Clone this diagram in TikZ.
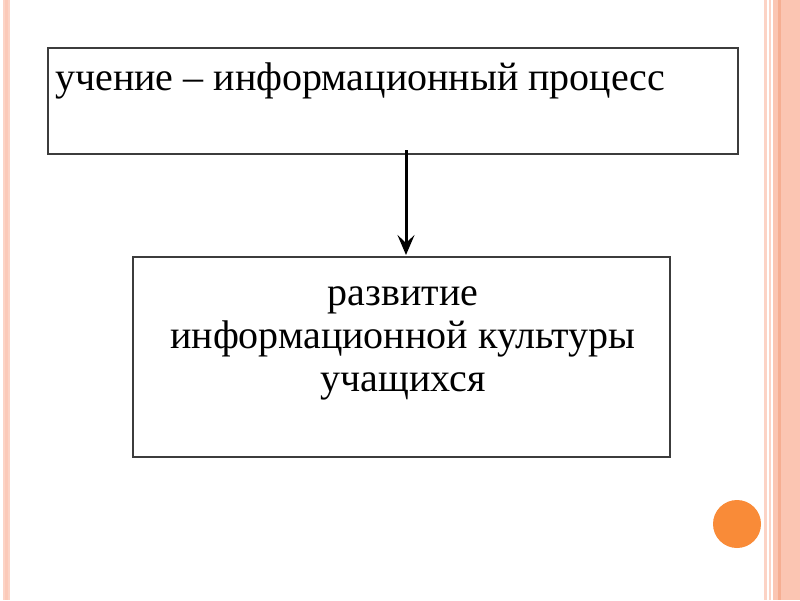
\documentclass[tikz,border=0pt]{standalone}
\usepackage{fontspec}
\setmainfont{Liberation Serif}
\usetikzlibrary{arrows.meta}
\definecolor{stripeA}{HTML}{FCD3C5}
\definecolor{stripeB}{HTML}{FBC5B2}
\definecolor{stripeC}{HTML}{F6AE92}
\definecolor{dot}{HTML}{F98B38}
\definecolor{boxline}{HTML}{3C3C3C}
\tikzset{
  px/.style={x=1pt,y=-1pt},
  txtbox/.style={draw=boxline, line width=1.8pt, inner sep=0pt},
  txt/.style={font=\fontsize{40}{43}\selectfont, text=black, inner sep=0pt},
  conn/.style={line width=3pt, -{Stealth[length=20pt,width=17pt,inset=8pt]}}
}
\begin{document}
\begin{tikzpicture}[px]
\useasboundingbox (0,0) rectangle (800,600);
\fill[white] (0,0) rectangle (800,600);
% left border stripe
\fill[stripeA] (3,0) rectangle (10,600);
\fill[stripeB!70!stripeA] (5,0) rectangle (8,600);
% right border stripes
\fill[stripeA] (764,0) rectangle (767,600);
\fill[stripeA] (769,0) rectangle (771,600);
\fill[stripeB] (773,0) rectangle (800,600);
\fill[stripeC] (778,0) rectangle (781,600);
% boxes
\node[txtbox, minimum width=690pt, minimum height=106pt, anchor=north west] (top) at (47,47) {};
\node[txtbox, minimum width=537pt, minimum height=200pt, anchor=north west] (bot) at (132,256) {};
\node[txt, anchor=base west] (t1) at (55,90) {учение – информационный процесс};
\node[txt, align=center, anchor=north] (t2) at (403,286) {развитие\\информационной культуры\\учащихся};
\coordinate (a1) at (406,150);
\coordinate (a2) at (406,255);
\draw[conn] (a1) -- (a2);
\node[circle, fill=dot, minimum size=48pt, inner sep=0pt] (c) at (737,524) {};
\end{tikzpicture}
\end{document}
